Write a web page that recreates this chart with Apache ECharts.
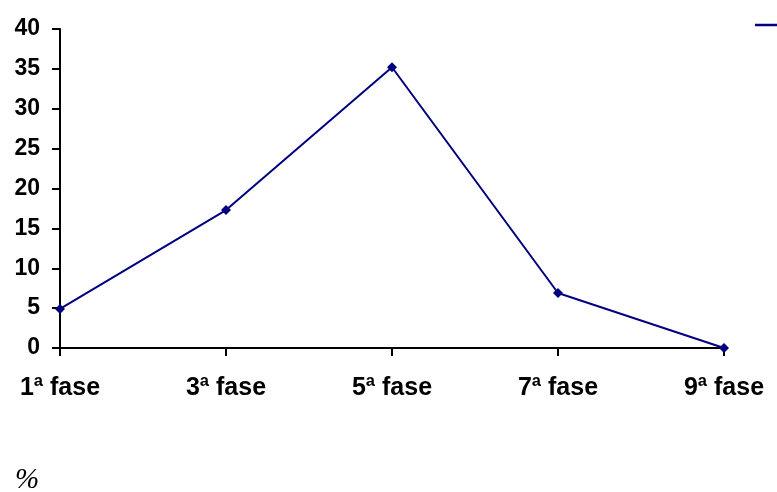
<!DOCTYPE html>
<html>
<head>
<meta charset="utf-8">
<script src="https://cdn.jsdelivr.net/npm/echarts@6/dist/echarts.min.js"></script>
<style>
  html, body { margin: 0; padding: 0; background: #fff; }
  #chart { width: 777px; height: 492px; }
</style>
</head>
<body>
<div id="chart"></div>
<script>
// Phases along the x axis and the percentage reached at each one
const phases = ['1ª fase', '3ª fase', '5ª fase', '7ª fase', '9ª fase'];
const percentValues = [4.9, 17.3, 35.2, 6.9, 0];
const seriesName = 'Série1';

const chart = echarts.init(document.getElementById('chart'), null, { renderer: 'canvas' });

const baseFont = {
  fontFamily: 'Liberation Sans, Arial, sans-serif',
  fontWeight: 'bold',
  color: '#000'
};

chart.setOption({
  animation: false,
  backgroundColor: '#fff',
  title: {
    text: '%',
    left: 15,
    top: 466,
    padding: 0,
    textStyle: {
      fontFamily: 'Liberation Serif, Times New Roman, serif',
      fontStyle: 'italic',
      fontWeight: 'normal',
      fontSize: 29,
      color: '#000'
    }
  },
  legend: {
    left: 750,
    top: 13,
    icon: 'rect',
    itemWidth: 22,
    itemHeight: 2.5,
    itemGap: 4,
    data: [seriesName],
    textStyle: { fontSize: 14, color: '#000' }
  },
  grid: { left: 60, right: 53, top: 29, bottom: 144, containLabel: false },
  xAxis: {
    type: 'category',
    data: phases,
    boundaryGap: false,
    axisLine: { lineStyle: { color: '#000', width: 2 } },
    axisTick: { show: true, length: 8, lineStyle: { color: '#000', width: 2 }, alignWithLabel: true },
    axisLabel: Object.assign({ margin: 28, interval: 0, fontSize: 25 }, baseFont),
    splitLine: { show: false }
  },
  yAxis: {
    type: 'value',
    min: 0,
    max: 40,
    interval: 5,
    axisLine: { show: true, lineStyle: { color: '#000', width: 2 } },
    axisTick: { show: true, length: 8, lineStyle: { color: '#000', width: 2 } },
    axisLabel: Object.assign({ margin: 20, fontSize: 23 }, baseFont),
    splitLine: { show: false }
  },
  series: [{
    name: seriesName,
    type: 'line',
    data: percentValues,
    symbol: 'diamond',
    symbolSize: 10,
    lineStyle: { color: '#000080', width: 2 },
    itemStyle: { color: '#000080' }
  }]
});
</script>
</body>
</html>
